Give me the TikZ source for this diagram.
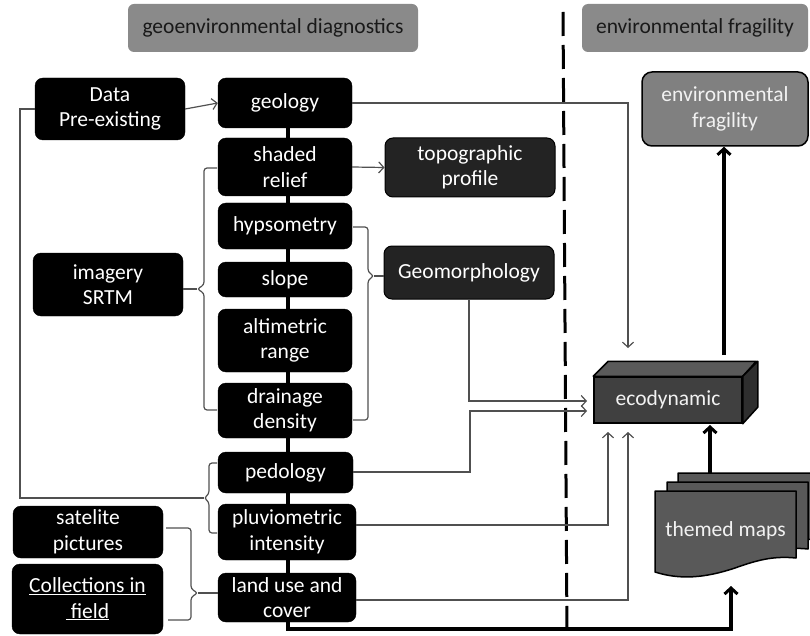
\documentclass[tikz,border=0pt]{standalone}
\usepackage{fontspec}
\setmainfont{Carlito}
\usetikzlibrary{arrows.meta}
\definecolor{hdrgray}{HTML}{8A8A8A}
\definecolor{darkbox}{HTML}{232323}
\definecolor{linegray}{HTML}{505050}
\definecolor{ecofront}{HTML}{404040}
\definecolor{ecotop}{HTML}{5A5A5A}
\definecolor{ecoside}{HTML}{2E2E2E}
\definecolor{docfill}{HTML}{595959}
\definecolor{fragfill}{HTML}{808080}
\begin{document}
\begin{tikzpicture}[x=1pt,y=-1pt,
  every node/.style={font=\fontsize{21.5}{25.5}\selectfont, inner sep=0pt, align=center},
  blk/.style={draw=black, fill=black, text=white, rounded corners=8pt},
  dgr/.style={draw=black, line width=1pt, fill=darkbox, text=white, rounded corners=8pt},
  hdr/.style={fill=hdrgray, text=black!90, rounded corners=6pt},
  conn/.style={draw=linegray, line width=1.2pt},
  connarr/.style={conn, -{Straight Barb[length=5pt,width=11pt,line width=1.2pt]}},
  bold/.style={draw=black, line width=3.5pt},
  boldarr/.style={bold, -{Straight Barb[length=6pt,width=13pt,line width=3pt]}},
  brace/.style={conn, rounded corners=3pt},
  docst/.style={draw=black, line width=1.5pt, fill=docfill}]
\useasboundingbox (0,0) rectangle (810,636);
\clip (0,0) rectangle (810,636);

% dashed divider
\draw[line width=3pt, dash pattern=on 24pt off 9pt] (563,12) -- (567,636);

% headers
\node[hdr, minimum width=290, minimum height=48] (h1) at (273,28) {geoenvironmental diagnostics};
\node[hdr, minimum width=226, minimum height=48] (h2) at (695,28) {environmental fragility};

% central spine
\draw[bold] (288,110) -- (288,629);

% left column
\node[blk, minimum width=150, minimum height=62] (data) at (110,109) {Data\\Pre-existing};
\node[blk, minimum width=150, minimum height=63] (imagery) at (108,284.5) {imagery\\SRTM};
\node[blk, minimum width=150, minimum height=52] (sat) at (88,532) {satelite\\pictures};
\node[blk, minimum width=151, minimum height=70] (coll) at (87.5,599) {\underline{Collections in}\\\underline{\ field}};

% central column
\node[blk, minimum width=134, minimum height=50] (geology) at (285,103) {geology};
\node[blk, minimum width=134, minimum height=58] (shaded) at (285,167) {shaded\\relief};
\node[blk, minimum width=134, minimum height=46] (hyps) at (285,226) {hypsometry};
\node[blk, minimum width=134, minimum height=35] (slope) at (285,279.5) {slope};
\node[blk, minimum width=134, minimum height=63] (alti) at (285,340.5) {altimetric\\range};
\node[blk, minimum width=134, minimum height=55] (drain) at (285,410.5) {drainage\\density};
\node[blk, minimum width=135, minimum height=41] (pedo) at (285.5,472.5) {pedology};
\node[blk, minimum width=138, minimum height=56] (pluvio) at (287,532) {pluviometric\\intensity};
\node[blk, minimum width=138, minimum height=49] (land) at (287,597.5) {land use and\\cover};

% middle
\node[dgr, minimum width=170, minimum height=59] (topo) at (470,167.5) {topographic\\profile};
\node[dgr, minimum width=170, minimum height=53] (geomorph) at (469,272.5) {Geomorphology};

% right column
\node[draw=black, line width=1.5pt, fill=fragfill, text=white!95!black, rounded corners=10pt,
      minimum width=166, minimum height=74] (frag) at (725,109) {environmental\\fragility};

% ecodynamic cuboid
\node[draw=black, line width=1.5pt, fill=ecofront, text=white!95!black,
      minimum width=148, minimum height=46] (eco) at (668,400) {ecodynamic};
\draw[draw=black, line width=1.5pt, fill=ecotop, line join=round]
  (eco.north west) -- ++(15,-15) -- ++(148,0) -- (eco.north east) -- cycle;
\draw[draw=black, line width=1.5pt, fill=ecoside, line join=round]
  (eco.north east) -- ++(15,-15) -- ++(0,46) -- (eco.south east) -- cycle;

% themed maps (stacked documents)
\foreach \a/\b in {678/473, 667/482, 655/491}{
  \draw[docst, line join=round] (\a,\b) -- ++(141,0) -- ++(0,67)
    .. controls ++(-21,-2) and ++(25,-9) .. ++(-61,10)
    .. controls ++(-30,10) and ++(25,8) .. ++(-80,4) -- cycle;
}
\node[text=white!95!black, minimum width=141, minimum height=84] (themed) at (725.5,531) {themed maps};

% coordinates for connectors
\coordinate (tipA) at (197,289);
\coordinate (tipB) at (374,276);
\coordinate (tipC) at (204,498);
\coordinate (tipD) at (198,593);
\coordinate (themedtop) at (710,473);
\coordinate (ecotop) at (724,355);

% braces
\draw[brace] (217,168) -- (204,168) -- (204,285) -- (tipA) -- (204,293) -- (204,410) -- (217,410);
\draw[brace] (353,227) -- (368,227) -- (368,272) -- (tipB) -- (368,280) -- (368,420) -- (353,420);
\draw[brace] (217,463) -- (209,463) -- (209,494) -- (tipC) -- (209,502) -- (209,533) -- (217,533);
\draw[brace] (166,528) -- (191,528) -- (191,589) -- (tipD) -- (191,597) -- (191,620) -- (168,620);

% brace connections
\draw[conn] (imagery.east |- tipA) -- (tipA);
\draw[conn] (tipB) -- (geomorph.west |- tipB);
\draw[conn] (data.west) -- (20,109) -- (20,498) -- (tipC);
\draw[conn] (tipD) -- (land.west |- tipD);

% arrows
\draw[connarr] (data.east) -- (geology.west);
\draw[connarr] (shaded.east) -- (topo.west);
\draw[connarr] (geology.east) -- (628,103) -- (628,348);
\draw[connarr] (geomorph.south) -- (469,401) -- (587,401);
\draw[connarr] (pedo.east |- 0,472) -- (470,472) -- (470,411) -- (587,411);
\draw[connarr] (pluvio.east |- 0,525) -- (608,525) -- (608,432);
\draw[connarr] (land.east |- 0,600) -- (628,600) -- (628,432);

% thick arrows
\draw[boldarr] (themedtop) -- (710,425);
\draw[boldarr] (ecotop) -- (frag.south -| ecotop);
\draw[boldarr] (288,622) -- (288,629) -- (731,629) -- (731,586);
\end{tikzpicture}
\end{document}
